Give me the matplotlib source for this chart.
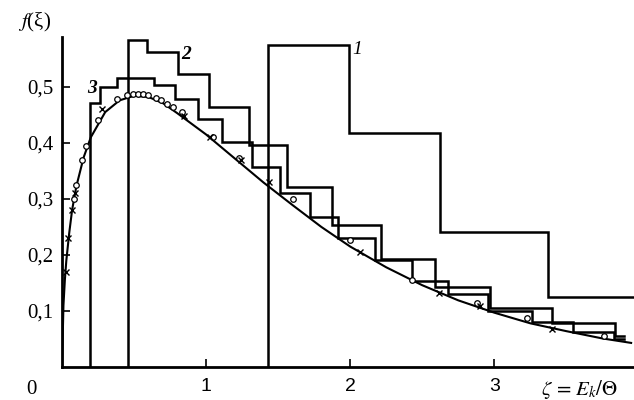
import numpy as np
import matplotlib
matplotlib.use('Agg')
from matplotlib import pyplot as plt

# Smooth distribution curve
curve_x = [0.0, 0.01, 0.02, 0.03, 0.05, 0.07, 0.1, 0.15, 0.2, 0.3, 0.4, 0.5, 0.6, 0.7, 0.8, 1.0, 1.2,
           1.4, 1.6, 1.8, 2.0, 2.25, 2.5, 2.75, 3.0, 3.25, 3.5, 3.75, 3.95]
curve_y = [0.0, 0.11, 0.156, 0.19, 0.239, 0.28, 0.323, 0.374, 0.41, 0.455, 0.476, 0.484, 0.482, 0.471,
           0.453, 0.415, 0.372, 0.329, 0.289, 0.250, 0.215, 0.178, 0.146, 0.119, 0.097, 0.078, 0.064,
           0.051, 0.043]

# Simulation points (open circles and crosses)
circles_x = [0.08, 0.10, 0.14, 0.17, 0.25, 0.38, 0.45, 0.49, 0.53, 0.56, 0.60, 0.65, 0.69, 0.73,
             0.77, 0.83, 1.05, 1.23, 1.60, 2.0, 2.43, 2.88, 3.23, 3.76]
circles_y = [0.30, 0.325, 0.37, 0.395, 0.44, 0.478, 0.486, 0.488, 0.488, 0.487, 0.485, 0.481, 0.476,
             0.47, 0.464, 0.456, 0.41, 0.373, 0.30, 0.226, 0.155, 0.114, 0.088, 0.055]
crosses_x = [0.025, 0.045, 0.07, 0.09, 0.28, 0.85, 1.03, 1.24, 1.44, 2.07, 2.62, 2.9, 3.4]
crosses_y = [0.17, 0.23, 0.28, 0.31, 0.46, 0.448, 0.41, 0.37, 0.33, 0.205, 0.132, 0.108, 0.068]

# Histogram 1
h1_edges = [1.43, 1.99, 2.625, 3.375, 3.97]
h1_levels = [0.575, 0.418, 0.241, 0.125]

# Histogram 2
h2_edges = [0.458, 0.59, 0.806, 1.02, 1.30, 1.5625, 1.875, 2.215, 2.59, 2.97, 3.40, 3.84, 3.90]
h2_levels = [0.584, 0.5625, 0.523, 0.464, 0.396, 0.321, 0.254, 0.193, 0.143, 0.105, 0.078, 0.056]

# Histogram 3
h3_edges = [0.194, 0.264, 0.382, 0.639, 0.785, 0.944, 1.111, 1.319, 1.514, 1.722, 1.917, 2.174,
            2.43, 2.68, 2.96, 3.26, 3.55, 3.83, 3.90]
h3_levels = [0.471, 0.5, 0.516, 0.504, 0.479, 0.443, 0.402, 0.357, 0.311, 0.268, 0.230, 0.191,
             0.154, 0.13, 0.10, 0.08, 0.063, 0.05]

x_ticks = [1, 2, 3]
y_ticks = [0.1, 0.2, 0.3, 0.4, 0.5]

plt.rcParams['mathtext.fontset'] = 'stix'
serif = 'Liberation Serif'

fig = plt.figure(figsize=(6.34, 4.0), dpi=100)
ax = fig.add_axes([0.0978, 0.0825, 0.9022, 0.825])


def draw_hist(edges, levels, lw=1.8):
    # left side drops to the axis, right end stays open
    xs = [edges[0]] + list(edges)
    ys = [0] + list(levels) + [levels[-1]]
    ax.step(xs, ys, where='post', color='black', linewidth=lw, solid_joinstyle='miter')


draw_hist(h1_edges, h1_levels)
draw_hist(h2_edges, h2_levels)
draw_hist(h3_edges, h3_levels)

ax.plot(curve_x, curve_y, color='black', linewidth=1.5)
ax.plot(circles_x, circles_y, 'o', markersize=4, markerfacecolor='white', markeredgecolor='black',
        markeredgewidth=0.9)
ax.plot(crosses_x, crosses_y, 'x', markersize=4, color='black', markeredgewidth=1.0)

# curve labels
ax.text(2.05, 0.566, '1', fontsize=14, family=serif, style='italic', ha='center', va='center')
ax.text(0.86, 0.557, '2', fontsize=14, family=serif, style='italic', weight='bold',
        ha='center', va='center')
ax.text(0.21, 0.497, '3', fontsize=14, family=serif, style='italic', weight='bold',
        ha='center', va='center')

ax.set_xlim(0, 3.97)
ax.set_ylim(0, 0.589)
for side in ['top', 'right']:
    ax.spines[side].set_visible(False)
for side in ['left', 'bottom']:
    ax.spines[side].set_linewidth(2.0)

ax.set_xticks(x_ticks)
ax.set_xticklabels([str(t) for t in x_ticks], fontsize=14, family='Liberation Sans')
ax.set_yticks(y_ticks)
ax.set_yticklabels([f'{t:.1f}'.replace('.', ',') for t in y_ticks], fontsize=15, family=serif)
ax.tick_params(axis='both', direction='in', length=6, width=1.2)
ax.tick_params(axis='x', pad=8)
ax.tick_params(axis='y', pad=6)

ax.text(-0.21, -0.04, '0', fontsize=15, family=serif, ha='center', va='center')
ax.text(3.59, -0.04, r'$\zeta\, = \,E_k/\Theta$', fontsize=15, ha='center', va='center')
fig.text(0.055, 0.945, r'$f$' + '(ξ)', fontsize=15, family=serif, ha='center', va='center')

plt.savefig('out.png', dpi=100)
